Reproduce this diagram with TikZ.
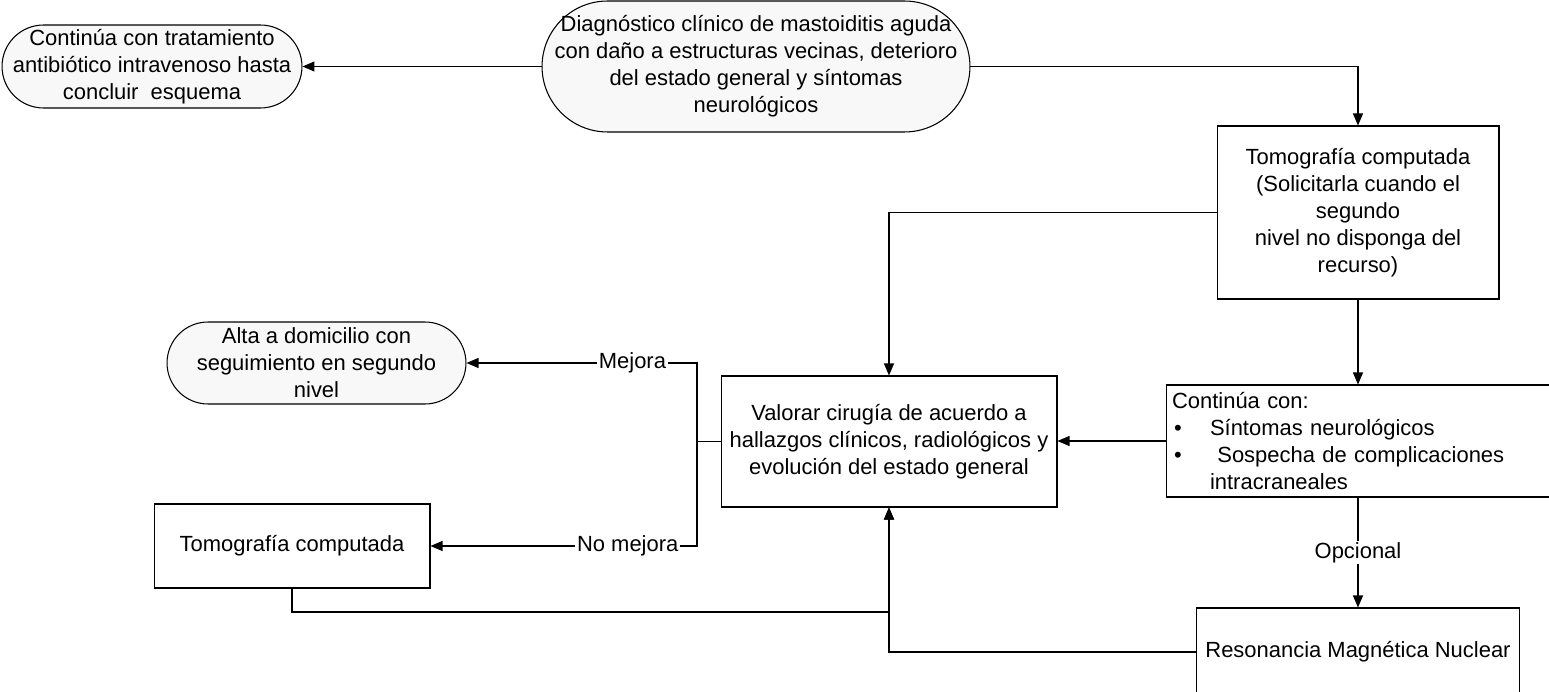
\documentclass[tikz,border=0pt]{standalone}
\usepackage{fontspec}
\setmainfont{Liberation Sans}
\usetikzlibrary{arrows.meta}
\definecolor{fondo}{HTML}{F8F8F8}

\begin{document}
\begin{tikzpicture}[x=0.02cm, y=-0.02cm, line width=0.6pt,
  every node/.style={font=\fontsize{12.5}{15.4}\selectfont},
  terminal/.style={draw, fill=fondo, align=center, inner sep=0pt},
  caja/.style={draw, align=center, inner sep=0pt},
  flecha/.style={-{Triangle[length=0.24cm,width=0.2cm]}},
  etiqueta/.style={fill=white, inner sep=1pt}]
\useasboundingbox (0,0) rectangle (1549,692);
% terminales
\node (diag) at (756,66.5)[terminal, minimum width=8.56cm, minimum height=2.62cm, rounded corners=1.31cm]
  {Diagnóstico clínico de mastoiditis aguda\\con daño a estructuras vecinas, deterioro\\del estado general y síntomas\\neurológicos};
\node (cont) at (152,66.5)[terminal, minimum width=6.0cm, minimum height=1.66cm, rounded corners=0.83cm]
  {Continúa con tratamiento\\antibiótico intravenoso hasta\\concluir\ \ esquema};
\node (alta) at (316.5,363)[terminal, minimum width=5.98cm, minimum height=1.64cm, rounded corners=0.82cm]
  {Alta a domicilio con\\seguimiento en segundo\\nivel};
% cajas
\node (tomo) at (1358,212.5)[caja, minimum width=5.64cm, minimum height=3.46cm]
  {Tomografía computada\\(Solicitarla cuando el\\segundo\\nivel no disponga del\\recurso)};
\node (valorar) at (889,441.5)[caja, minimum width=6.72cm, minimum height=2.62cm]
  {Valorar cirugía de acuerdo a\\hallazgos clínicos, radiológicos y\\evolución del estado general};
\node (sintomas) at (1363.5,441)[draw, align=left, inner xsep=0.12cm, inner ysep=0pt, text width=7.66cm, minimum height=2.24cm]
  {Continúa con:\\
   \hspace*{0.04cm}\makebox[0.72cm][l]{\textbullet}Síntomas neurológicos\\
   \hspace*{0.04cm}\makebox[0.72cm][l]{\textbullet}\ Sospecha de complicaciones\\
   \hspace*{0.76cm}intracraneales};
\node (rmn) at (1358,652)[caja, minimum width=6.46cm, minimum height=1.76cm]
  {Resonancia Magnética Nuclear};
\node (tac) at (292,546)[caja, minimum width=5.52cm, minimum height=1.68cm]
  {Tomografía computada};
\coordinate (rama) at (697,441.5);
\coordinate (bajo) at (889,612);
% conectores
\draw[flecha] (diag.west) -- (cont.east);
\draw[flecha] (diag.east) -| (tomo.north);
\draw[flecha] (tomo.west) -| (valorar.north);
\draw[flecha] (tomo.south) -- (tomo.south |- sintomas.north);
\draw[flecha] (sintomas.west) -- (sintomas.west -| valorar.east);
\draw[flecha] (tomo.south |- sintomas.south) -- node[etiqueta] {Opcional} (tomo.south |- rmn.north);
\draw[flecha] (rmn.west) -| (valorar.south);
\draw[flecha] (tac.south) |- (bajo) -- (valorar.south);
\draw (valorar.west) -- (rama);
\draw[flecha] (rama) |- node[etiqueta, pos=0.64] {Mejora} (alta.east);
\draw[flecha] (rama) |- node[etiqueta, pos=0.63] {No mejora} (tac.east);
\end{tikzpicture}
\end{document}
